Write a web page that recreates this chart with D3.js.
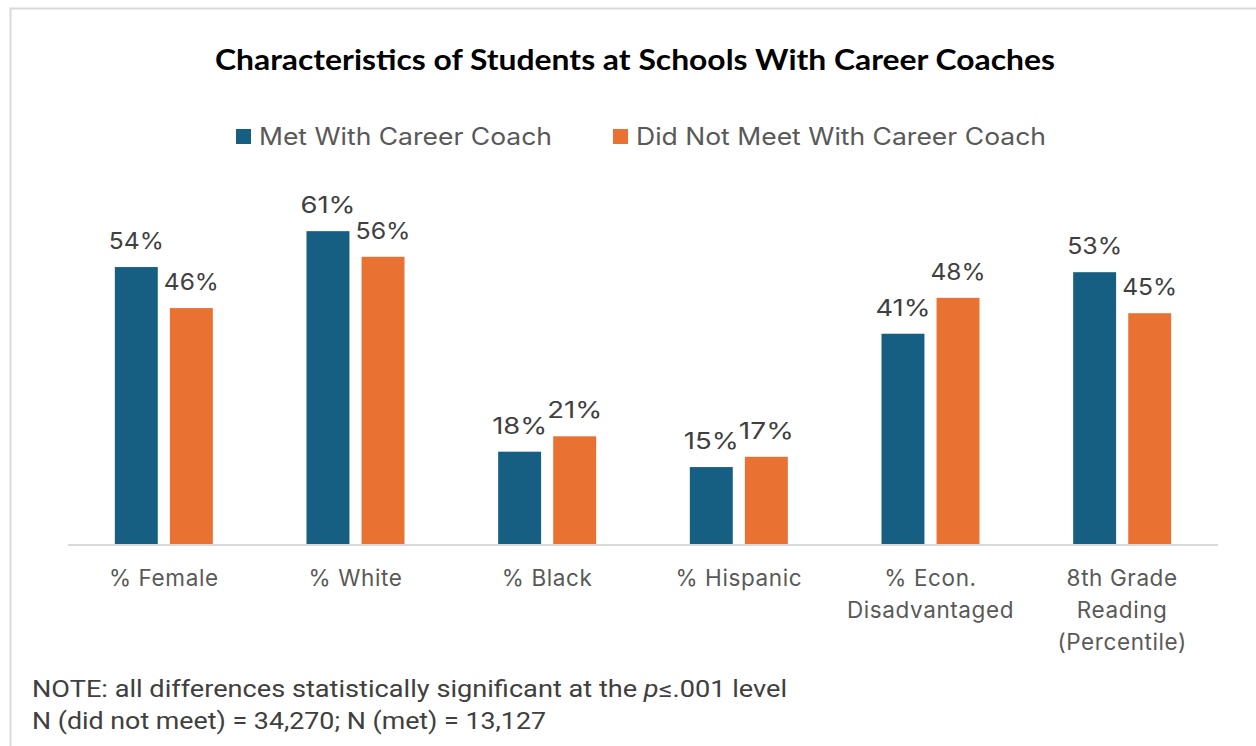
<!DOCTYPE html>
<html>
<head>
<meta charset="utf-8">
<script src="https://cdn.jsdelivr.net/npm/d3@7"></script>
<style>
  body { margin: 0; background: #fff; }
  svg { display: block; }
</style>
</head>
<body>
<div id="chart"></div>
<script>
// Chart data
const categories = ["% Female", "% White", "% Black", "% Hispanic", "% Econ. Disadvantaged", "8th Grade Reading (Percentile)"];
const categoryLines = [["% Female"], ["% White"], ["% Black"], ["% Hispanic"], ["% Econ.", "Disadvantaged"], ["8th Grade", "Reading", "(Percentile)"]];
const seriesNames = ["Met With Career Coach", "Did Not Meet With Career Coach"];
const metValues = [54, 61, 18, 15, 41, 53];
const notMetValues = [46, 56, 21, 17, 48, 45];
const colors = ["#175F82", "#E97132"];

const W = 1256, H = 746;
const plot = { left: 68, right: 1218, top: 185, bottom: 544 };

const svg = d3.select("#chart").append("svg")
  .attr("width", W)
  .attr("height", H);

// light frame round the chart
svg.append("path")
  .attr("d", `M10.5,${H} L10.5,8.5 L${W},8.5`)
  .attr("fill", "none")
  .attr("stroke", "#d9d9d9")
  .attr("stroke-width", 2);

// Title
svg.append("text")
  .attr("x", 635)
  .attr("y", 70)
  .attr("text-anchor", "middle")
  .attr("font-family", "Lato, sans-serif")
  .attr("font-weight", "bold")
  .attr("font-size", 29)
  .attr("textLength", 840)
  .attr("lengthAdjust", "spacingAndGlyphs")
  .attr("fill", "#000")
  .text("Characteristics of Students at Schools With Career Coaches");

// Legend
const legendItems = [
  { name: seriesNames[0], color: colors[0], x: 236, w: 293 },
  { name: seriesNames[1], color: colors[1], x: 613, w: 410 }
];
legendItems.forEach(d => {
  svg.append("rect")
    .attr("x", d.x).attr("y", 129)
    .attr("width", 15).attr("height", 15)
    .attr("fill", d.color);
  svg.append("text")
    .attr("x", d.x + 23).attr("y", 145)
    .attr("font-family", "Inter, sans-serif")
    .attr("font-size", 24)
    .attr("fill", "#595959")
    .attr("textLength", d.w)
    .attr("lengthAdjust", "spacingAndGlyphs")
    .text(d.name);
});

// Scales
const x0 = d3.scaleBand()
  .domain(categories)
  .range([plot.left, plot.right]);

const x1 = d3.scaleBand()
  .domain(seriesNames)
  .range([x0.bandwidth() / 2 - 49, x0.bandwidth() / 2 + 49])
  .paddingInner(0.22);

const y = d3.scaleLinear()
  .domain([0, 70])
  .range([plot.bottom, plot.top]);

const rows = categories.map((c, i) => ({
  cat: c,
  vals: [
    { s: seriesNames[0], v: metValues[i], color: colors[0] },
    { s: seriesNames[1], v: notMetValues[i], color: colors[1] }
  ]
}));

const groups = svg.selectAll(".grp")
  .data(rows)
  .enter()
  .append("g")
  .attr("class", "grp")
  .attr("transform", d => `translate(${x0(d.cat)},0)`);

groups.selectAll("rect")
  .data(d => d.vals)
  .enter()
  .append("rect")
  .attr("x", d => x1(d.s))
  .attr("y", d => y(d.v))
  .attr("width", x1.bandwidth())
  .attr("height", d => y(0) - y(d.v))
  .attr("fill", d => d.color);

groups.selectAll(".lbl")
  .data(d => d.vals)
  .enter()
  .append("text")
  .attr("class", "lbl")
  .attr("x", d => x1(d.s) + x1.bandwidth() / 2)
  .attr("y", d => y(d.v) - 18)
  .attr("text-anchor", "middle")
  .attr("font-family", "Inter, sans-serif")
  .attr("font-size", 23)
  .attr("fill", "#404040")
  .attr("textLength", 55)
  .attr("lengthAdjust", "spacingAndGlyphs")
  .text(d => d.v + "%");

// Baseline
svg.append("line")
  .attr("x1", plot.left).attr("x2", plot.right)
  .attr("y1", y(0) + 1).attr("y2", y(0) + 1)
  .attr("stroke", "#d9d9d9")
  .attr("stroke-width", 2);

// Category labels
categories.forEach((c, i) => {
  const t = svg.append("text")
    .attr("x", x0(c) + x0.bandwidth() / 2)
    .attr("y", 586)
    .attr("text-anchor", "middle")
    .attr("font-family", "Inter, sans-serif")
    .attr("font-size", 22.5)
    .attr("letter-spacing", 0.6)
    .attr("fill", "#595959");
  categoryLines[i].forEach((line, j) => {
    t.append("tspan")
      .attr("x", x0(c) + x0.bandwidth() / 2)
      .attr("dy", j === 0 ? 0 : 32)
      .text(line);
  });
});

// Notes
const note1 = svg.append("text")
  .attr("x", 32).attr("y", 697)
  .attr("font-family", "Roboto, sans-serif")
  .attr("font-size", 23)
  .attr("fill", "#404040")
  .attr("textLength", 755)
  .attr("lengthAdjust", "spacingAndGlyphs");
note1.append("tspan").text("NOTE: all differences statistically significant at the ");
note1.append("tspan").attr("font-style", "italic").text("p");
note1.append("tspan").text("\u2264.001 level");

svg.append("text")
  .attr("x", 32).attr("y", 729)
  .attr("font-family", "Roboto, sans-serif")
  .attr("font-size", 23)
  .attr("fill", "#404040")
  .attr("textLength", 514)
  .attr("lengthAdjust", "spacingAndGlyphs")
  .text("N (did not meet) = 34,270; N (met) = 13,127");
</script>
</body>
</html>
